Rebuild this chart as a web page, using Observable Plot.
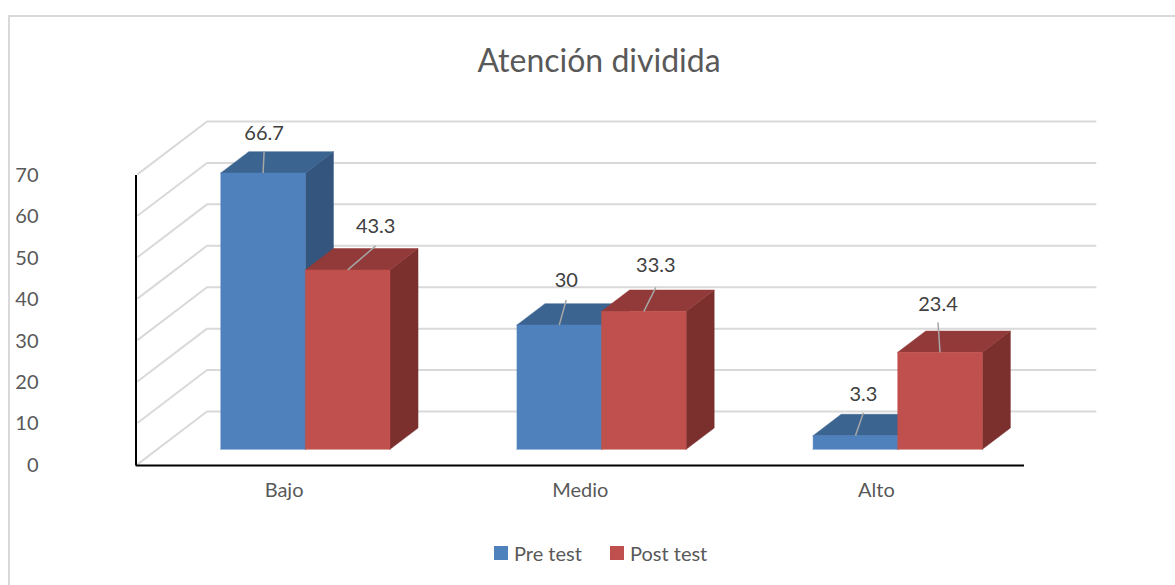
<!DOCTYPE html>
<html>
<head>
<meta charset="utf-8">
<script src="https://cdn.jsdelivr.net/npm/d3@7"></script>
<script src="https://cdn.jsdelivr.net/npm/@observablehq/plot@0.6"></script>
<style>
  html, body { margin: 0; padding: 0; background: #fff; }
  #page { position: relative; width: 1175px; height: 585px; overflow: hidden; font-family: Lato, "Open Sans", sans-serif; }
  #frame { position: absolute; left: 8px; top: 15px; width: 1200px; height: 600px; border: 2px solid #d9d9d9; box-sizing: border-box; }
  #title { position: relative; height: 100px; box-sizing: border-box; padding-top: 39px; padding-left: 23px; text-align: center; font-size: 32px; line-height: 42px; color: #595959; }
  #chart { position: relative; height: 420px; }
  #chart svg { display: block; overflow: visible; background: transparent; }
  #legend { position: relative; height: 65px; font-size: 20px; color: #595959; }
  #legend span { position: absolute; top: 21px; line-height: 24px; white-space: nowrap; }
  #legend i { position: absolute; top: 26px; width: 14px; height: 14px; }
</style>
</head>
<body>
<div id="page">
  <div id="frame"></div>
  <div id="title">Atención dividida</div>
  <div id="chart"></div>
  <div id="legend"></div>
</div>
<script>
const categories = ["Bajo", "Medio", "Alto"];
const seriesNames = ["Pre test", "Post test"];
const preTest = [66.7, 30, 3.3];
const postTest = [43.3, 33.3, 23.4];
const yTicks = [0, 10, 20, 30, 40, 50, 60, 70];

const shades = [
  {front: "#4f81bd", top: "#3c6491", side: "#33557e"},
  {front: "#c0504d", top: "#923a39", side: "#7b302e"}
];

// Oblique projection: depth 0 = front of floor, 1 = back wall
const xRange = [135.5, 1024], yRange = [365, 75];
const xUnit = (xRange[1] - xRange[0]) / categories.length;
const yUnit = (yRange[0] - yRange[1]) / 70;
const depthX = 71 / xUnit, depthY = 54 / yUnit;
const px = (x, v, d) => ({x: x + d * depthX, y: v + d * depthY});
const barW = 84.6 / xUnit, dFront = 0.30, dBack = 0.695;

const values = [preTest, postTest];
const bars = [];
values.forEach((vals, s) => vals.forEach((v, c) => {
  const center = c + 0.5;
  bars.push({s, c, v, a: center + (s - 1) * barW, b: center + s * barW});
}));

function polys(s, face) {
  const rows = [];
  bars.filter(b => b.s === s).forEach(b => {
    let pts;
    if (face === "front") pts = [px(b.a, 0, dFront), px(b.b, 0, dFront), px(b.b, b.v, dFront), px(b.a, b.v, dFront)];
    if (face === "top") pts = [px(b.a, b.v, dFront), px(b.b, b.v, dFront), px(b.b, b.v, dBack), px(b.a, b.v, dBack)];
    if (face === "side") pts = [px(b.b, 0, dFront), px(b.b, 0, dBack), px(b.b, b.v, dBack), px(b.b, b.v, dFront)];
    pts.push(pts[0]);
    pts.forEach(p => rows.push({...p, id: b.c}));
  });
  return rows;
}

// Grid: from the front of the side wall to the back wall, along the back wall
const grid = [];
yTicks.forEach(t => {
  [px(0, t, 0.03), px(0, t, 1), px(categories.length, t, 1)].forEach(p => grid.push({...p, t}));
});

// Leader ends and label centres relative to the bar's front-top-edge, in pixels
const leaderEnds = [[[1, -21], [7, -25], [8, -23]], [[28, -24], [12, -24], [-2, -30]]];
const labelRise = [[-18, -19, -18], [-19, -22, -18]];
const leaders = bars.map(b => {
  const start = px((b.a + b.b) / 2, b.v, dFront);
  const [ox, oy] = leaderEnds[b.s][b.c];
  const end = {x: start.x + ox / xUnit, y: start.y - oy / yUnit};
  return {x1: start.x, y1: start.y, x2: end.x, y2: end.y, ly: end.y - labelRise[b.s][b.c] / yUnit, text: String(b.v)};
});

const marks = [
  Plot.line(grid, {x: "x", y: "y", z: "t", stroke: "#d9d9d9", strokeWidth: 2})
];
[0, 1].forEach(s => ["side", "top", "front"].forEach(face => {
  marks.push(Plot.line(polys(s, face), {x: "x", y: "y", z: "id", fill: shades[s][face], stroke: shades[s][face], strokeWidth: 0.5}));
}));
marks.push(
  Plot.link(leaders, {x1: "x1", y1: "y1", x2: "x2", y2: "y2", stroke: "#a6a6a6", strokeWidth: 1.5}),
  Plot.text(leaders, {x: "x2", y: "ly", text: "text", fill: "#404040", fontSize: 20}),
  Plot.ruleX([0], {y1: 0, y2: 70, stroke: "#000", strokeWidth: 2}),
  Plot.ruleY([0], {x1: 0, x2: categories.length, stroke: "#000", strokeWidth: 2}),
  Plot.axisY({ticks: yTicks, tickSize: 0, tickPadding: 22, label: null, fontSize: 20, color: "#595959", tickFormat: d => d}),
  Plot.axisX({ticks: categories.map((_, i) => i + 0.5), tickSize: 0, tickPadding: 22, label: null, fontSize: 20, color: "#595959", tickFormat: d => categories[Math.floor(d)]})
);

const plot = Plot.plot({
  width: 1175,
  height: 420,
  marginLeft: 60, marginRight: 0, marginTop: 0, marginBottom: 60,
  style: {fontFamily: "Lato, 'Open Sans', sans-serif", overflow: "visible"},
  x: {type: "linear", domain: [0, categories.length], range: xRange},
  y: {type: "linear", domain: [0, 70], range: yRange},
  marks
});
document.getElementById("chart").appendChild(plot);

const legend = document.getElementById("legend");
const legendLayout = [{swatch: 494, text: 514}, {swatch: 610, text: 630}];
seriesNames.forEach((name, i) => {
  const sw = document.createElement("i");
  sw.style.left = legendLayout[i].swatch + "px";
  sw.style.background = shades[i].front;
  const label = document.createElement("span");
  label.style.left = legendLayout[i].text + "px";
  label.textContent = name;
  legend.append(sw, label);
});
</script>
</body>
</html>
